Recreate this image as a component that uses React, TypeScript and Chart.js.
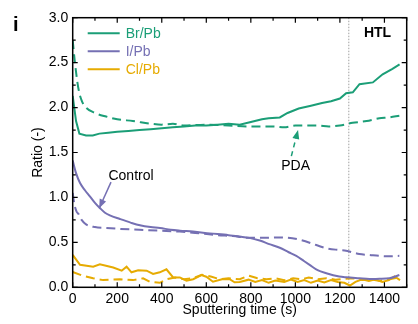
import { useEffect, useRef } from "react";
import { Chart, registerables } from "chart.js";

Chart.register(...registerables);

// ---- data ----
const brControlX = [0, 15, 30, 60, 90, 120, 160, 200, 250, 300, 350, 400, 450, 500, 550, 600, 650, 700, 750, 800, 850, 880, 930, 965, 1015, 1070, 1120, 1160, 1200, 1228, 1258, 1288, 1348, 1392, 1436, 1468];
const brControlY = [2.13, 1.85, 1.71, 1.69, 1.69, 1.71, 1.72, 1.73, 1.74, 1.75, 1.76, 1.77, 1.78, 1.79, 1.8, 1.8, 1.81, 1.82, 1.81, 1.84, 1.87, 1.88, 1.89, 1.94, 1.99, 2.02, 2.05, 2.07, 2.1, 2.16, 2.17, 2.26, 2.28, 2.37, 2.43, 2.48];

const brPdaX = [0, 10, 25, 40, 60, 100, 150, 200, 270, 350, 400, 450, 500, 600, 700, 800, 900, 950, 1000, 1050, 1100, 1150, 1200, 1257, 1320, 1377, 1420, 1467];
const brPdaY = [2.75, 2.5, 2.22, 2.08, 2.0, 1.94, 1.9, 1.87, 1.85, 1.82, 1.81, 1.82, 1.8, 1.81, 1.8, 1.79, 1.79, 1.78, 1.8, 1.8, 1.8, 1.79, 1.8, 1.83, 1.85, 1.88, 1.89, 1.91];

const iControlX = [0, 15, 33, 55, 78, 100, 123, 145, 167, 212, 260, 302, 350, 392, 440, 482, 540, 616, 700, 793, 840, 883, 930, 970, 1004, 1040, 1064, 1100, 1139, 1197, 1228, 1287, 1333, 1377, 1422, 1467];
const iControlY = [1.41, 1.27, 1.16, 1.08, 1.01, 0.94, 0.88, 0.83, 0.8, 0.76, 0.72, 0.69, 0.67, 0.66, 0.64, 0.63, 0.62, 0.6, 0.58, 0.55, 0.52, 0.48, 0.44, 0.39, 0.35, 0.29, 0.25, 0.19, 0.156, 0.12, 0.111, 0.1, 0.092, 0.095, 0.1, 0.137];

const iPdaX = [0, 8, 18, 25, 40, 60, 100, 150, 212, 300, 392, 480, 570, 650, 720, 793, 850, 933, 1019, 1094, 1139, 1197, 1228, 1287, 1333, 1377, 1420, 1467];
const iPdaY = [1.05, 0.92, 0.84, 0.82, 0.75, 0.7, 0.67, 0.66, 0.65, 0.64, 0.63, 0.62, 0.6, 0.58, 0.57, 0.55, 0.55, 0.555, 0.53, 0.47, 0.434, 0.415, 0.407, 0.37, 0.36, 0.35, 0.345, 0.35];

const clControlX = [0, 33, 92, 122, 182, 220, 242, 264, 294, 332, 361, 391, 421, 451, 481, 511, 541, 578, 600, 630, 675, 705, 727, 750, 790, 820, 850, 880, 910, 950, 980, 1010, 1040, 1070, 1100, 1130, 1160, 1190, 1220, 1245, 1270, 1300, 1330, 1360, 1390, 1420, 1445, 1470];
const clControlY = [0.36, 0.25, 0.23, 0.256, 0.22, 0.185, 0.23, 0.167, 0.19, 0.185, 0.148, 0.167, 0.2, 0.11, 0.11, 0.073, 0.09, 0.137, 0.118, 0.062, 0.092, 0.09, 0.056, 0.06, 0.085, 0.06, 0.08, 0.05, 0.075, 0.06, 0.085, 0.06, 0.08, 0.05, 0.075, 0.055, 0.08, 0.06, 0.05, 0.02, 0.06, 0.09, 0.07, 0.09, 0.06, 0.08, 0.12, 0.08];

const clPdaX = [0, 48, 92, 137, 212, 271, 316, 346, 391, 421, 460, 500, 540, 580, 620, 660, 700, 750, 790, 830, 870, 910, 950, 990, 1030, 1060, 1100, 1140, 1180, 1220, 1260, 1300, 1340, 1380, 1420, 1470];
const clPdaY = [0.17, 0.126, 0.1, 0.08, 0.09, 0.08, 0.1, 0.062, 0.05, 0.09, 0.11, 0.09, 0.1, 0.14, 0.12, 0.09, 0.1, 0.09, 0.13, 0.1, 0.09, 0.1, 0.08, 0.1, 0.09, 0.11, 0.09, 0.1, 0.085, 0.095, 0.1, 0.08, 0.09, 0.07, 0.09, 0.11];

const xTicks = [0, 200, 400, 600, 800, 1000, 1200, 1400];
const xMinorTicks = [100, 300, 500, 700, 900, 1100, 1300, 1500];
const yTicks = [0, 0.5, 1.0, 1.5, 2.0, 2.5, 3.0];
const yMinorTicks = [0.25, 0.75, 1.25, 1.75, 2.25, 2.75];
const htlBoundary = 1240;

const legendLabels = ["Br/Pb", "I/Pb", "Cl/Pb"];

// annotation anchors, in data units
const controlText = { x: 262, y: 1.24 };
const controlArrow = { x1: 172, y1: 1.17, x2: 119, y2: 0.88 };
const pdaText = { x: 1001, y: 1.35 };
const pdaArrow = { x1: 982, y1: 1.46, x2: 1012, y2: 1.75 };
const htlText = { x: 1369, y: 2.83 };

const GREEN = "#1b9e77";
const PURPLE = "#7570b3";
const ORANGE = "#e6ab02";
const FONT = "'Liberation Sans', Arial, sans-serif";

const pts = (xs: number[], ys: number[]) => xs.map((x, i) => ({ x, y: ys[i] }));

function arrowHead(ctx: CanvasRenderingContext2D, x1: number, y1: number, x2: number, y2: number, color: string) {
  const ang = Math.atan2(y2 - y1, x2 - x1);
  const len = 9, w = 3.5;
  ctx.save();
  ctx.fillStyle = color;
  ctx.beginPath();
  ctx.moveTo(x2, y2);
  ctx.lineTo(x2 - len * Math.cos(ang) + w * Math.sin(ang), y2 - len * Math.sin(ang) - w * Math.cos(ang));
  ctx.lineTo(x2 - len * Math.cos(ang) - w * Math.sin(ang), y2 - len * Math.sin(ang) + w * Math.cos(ang));
  ctx.closePath();
  ctx.fill();
  ctx.restore();
}

const decorPlugin = {
  id: "decor",
  beforeDatasetsDraw(chart: any) {
    const { ctx, chartArea: a, scales } = chart;
    const px = scales.x.getPixelForValue(htlBoundary);
    ctx.save();
    ctx.strokeStyle = "#888";
    ctx.lineWidth = 0.8;
    ctx.setLineDash([1.5, 1.5]);
    ctx.beginPath();
    ctx.moveTo(px, a.top);
    ctx.lineTo(px, a.bottom);
    ctx.stroke();
    ctx.restore();
  },
  afterDatasetsDraw(chart: any) {
    const { ctx, chartArea: a, scales } = chart;
    const X = (v: number) => scales.x.getPixelForValue(v);
    const Y = (v: number) => scales.y.getPixelForValue(v);
    ctx.save();
    // frame
    ctx.strokeStyle = "#000";
    ctx.lineWidth = 1.5;
    ctx.strokeRect(a.left, a.top, a.right - a.left, a.bottom - a.top);
    // ticks inward
    ctx.lineWidth = 1.2;
    ctx.beginPath();
    const tx = (v: number, l: number) => {
      const p = X(v);
      ctx.moveTo(p, a.bottom); ctx.lineTo(p, a.bottom - l);
      ctx.moveTo(p, a.top); ctx.lineTo(p, a.top + l);
    };
    const ty = (v: number, l: number) => {
      const p = Y(v);
      ctx.moveTo(a.left, p); ctx.lineTo(a.left + l, p);
      ctx.moveTo(a.right, p); ctx.lineTo(a.right - l, p);
    };
    xTicks.forEach((v) => tx(v, 5));
    xMinorTicks.forEach((v) => tx(v, 3));
    yTicks.forEach((v) => ty(v, 5));
    yMinorTicks.forEach((v) => ty(v, 3));
    ctx.stroke();

    // legend
    const colors = [GREEN, PURPLE, ORANGE];
    ctx.font = `14px ${FONT}`;
    ctx.textBaseline = "middle";
    ctx.textAlign = "left";
    legendLabels.forEach((lab, i) => {
      const yy = a.top + 15.5 + i * 18;
      ctx.strokeStyle = colors[i];
      ctx.lineWidth = 2;
      ctx.beginPath();
      ctx.moveTo(a.left + 15, yy);
      ctx.lineTo(a.left + 47, yy);
      ctx.stroke();
      ctx.fillStyle = colors[i];
      ctx.fillText(lab, a.left + 53, yy + 0.5);
    });

    // Control annotation
    ctx.fillStyle = "#000";
    ctx.textAlign = "center";
    ctx.fillText("Control", X(controlText.x), Y(controlText.y));
    ctx.strokeStyle = PURPLE;
    ctx.lineWidth = 1.5;
    ctx.beginPath();
    ctx.moveTo(X(controlArrow.x1), Y(controlArrow.y1));
    ctx.lineTo(X(controlArrow.x2), Y(controlArrow.y2));
    ctx.stroke();
    arrowHead(ctx, X(controlArrow.x1), Y(controlArrow.y1), X(controlArrow.x2), Y(controlArrow.y2), PURPLE);

    // PDA annotation
    ctx.fillStyle = "#000";
    ctx.fillText("PDA", X(pdaText.x), Y(pdaText.y));
    ctx.strokeStyle = GREEN;
    ctx.lineWidth = 1.5;
    ctx.setLineDash([5, 4]);
    ctx.beginPath();
    ctx.moveTo(X(pdaArrow.x1), Y(pdaArrow.y1));
    ctx.lineTo(X(pdaArrow.x2), Y(pdaArrow.y2));
    ctx.stroke();
    ctx.setLineDash([]);
    arrowHead(ctx, X(pdaArrow.x1), Y(pdaArrow.y1), X(pdaArrow.x2), Y(pdaArrow.y2), GREEN);

    // HTL
    ctx.fillStyle = "#000";
    ctx.font = `bold 14px ${FONT}`;
    ctx.fillText("HTL", X(htlText.x), Y(htlText.y));

    // panel label
    ctx.font = `bold 20px ${FONT}`;
    ctx.textAlign = "left";
    ctx.fillText("i", 13, 25);
    ctx.restore();
  },
};

export default function App() {
  const ref = useRef<HTMLCanvasElement | null>(null);
  useEffect(() => {
    if (!ref.current) return;
    const solid = (label: string, xs: number[], ys: number[], color: string, smooth: boolean) => ({
      label,
      data: pts(xs, ys),
      borderColor: color,
      backgroundColor: color,
      borderWidth: 2,
      pointRadius: 0,
      fill: false,
      cubicInterpolationMode: smooth ? "monotone" : "default",
      tension: 0,
    });
    const dashed = (label: string, xs: number[], ys: number[], color: string, smooth: boolean) => ({
      ...solid(label, xs, ys, color, smooth),
      borderDash: [9, 5],
    });
    const chart = new Chart(ref.current, {
      type: "line",
      data: {
        datasets: [
          solid("Br/Pb", brControlX, brControlY, GREEN, false),
          dashed("Br/Pb PDA", brPdaX, brPdaY, GREEN, true),
          solid("I/Pb", iControlX, iControlY, PURPLE, true),
          dashed("I/Pb PDA", iPdaX, iPdaY, PURPLE, true),
          solid("Cl/Pb", clControlX, clControlY, ORANGE, false),
          dashed("Cl/Pb PDA", clPdaX, clPdaY, ORANGE, false),
        ] as any,
      },
      options: {
        animation: false,
        responsive: true,
        maintainAspectRatio: false,
        layout: { padding: { left: 0, top: 17.7, right: 11.3, bottom: 0 } },
        plugins: { legend: { display: false }, tooltip: { enabled: false } },
        scales: {
          x: {
            type: "linear",
            min: 0,
            max: 1500,
            afterBuildTicks: (s: any) => { s.ticks = xTicks.map((v) => ({ value: v })); },
            afterFit: (s: any) => { s.height = 36.7; },
            grid: { display: false, drawTicks: false },
            border: { display: false },
            ticks: {
              padding: 3,
              color: "#000",
              font: { size: 14, family: FONT },
              maxRotation: 0,
              autoSkip: false,
              callback: (v: any) => String(v),
            },
            title: {
              display: true,
              text: "Sputtering time (s)",
              color: "#000",
              font: { size: 14, family: FONT },
              padding: { top: 0, bottom: 5 },
            },
          },
          y: {
            type: "linear",
            min: 0,
            max: 3,
            afterBuildTicks: (s: any) => { s.ticks = yTicks.map((v) => ({ value: v })); },
            afterFit: (s: any) => { s.width = 72.7; },
            grid: { display: false, drawTicks: false },
            border: { display: false },
            ticks: {
              padding: 4.5,
              color: "#000",
              font: { size: 14, family: FONT },
              callback: (v: any) => Number(v).toFixed(1),
            },
            title: {
              display: true,
              text: "Ratio (-)",
              color: "#000",
              font: { size: 14, family: FONT },
              padding: { top: 29.5, bottom: 0 },
            },
          },
        },
      } as any,
      plugins: [decorPlugin],
    });
    return () => chart.destroy();
  }, []);
  return (
    <div style={{ position: "fixed", left: 0, top: 0, width: 418, height: 324, background: "#fff" }}>
      <canvas ref={ref} />
    </div>
  );
}
